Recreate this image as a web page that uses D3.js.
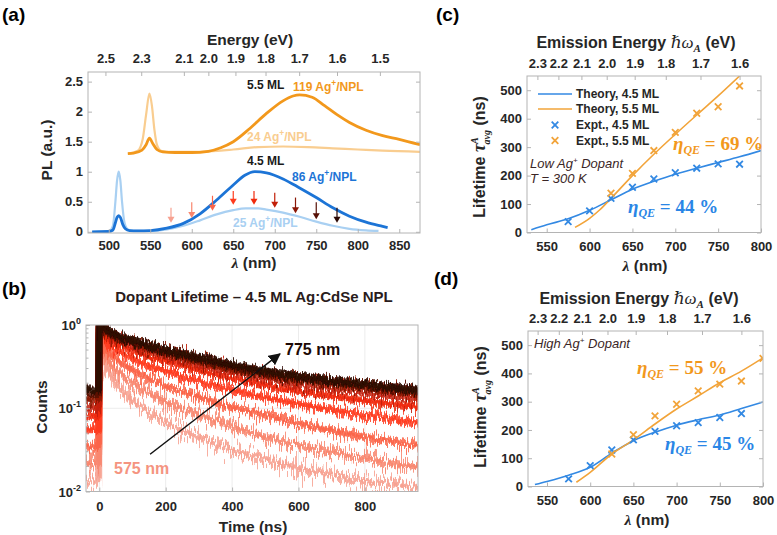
<!DOCTYPE html>
<html>
<head>
<meta charset="utf-8">
<script src="https://cdn.jsdelivr.net/npm/d3@7"></script>
<style>
  body { margin: 0; background: #fff; }
</style>
</head>
<body>
<svg id="fig" width="777" height="535"></svg>
<script>
// ---------- (a) PL spectra, [wavelength nm, PL a.u.] ----------
const energyTicksA = [2.5, 2.3, 2.1, 2.0, 1.9, 1.8, 1.7, 1.6, 1.5];
const wlTicksA = [500, 550, 600, 650, 700, 750, 800, 850];
const plTicks = [0, 0.5, 1, 1.5, 2, 2.5];
const pl86 = [[480,0],[500,0.005],[505,0.03],[508,0.15],[510,0.24],[512,0.27],[514,0.24],[517,0.12],[520,0.05],[525,0.02],[535,0.015],[550,0.02],[570,0.06],[590,0.14],[610,0.3],[630,0.53],[650,0.78],[664,0.94],[676,1.0],[690,0.98],[710,0.88],[730,0.73],[750,0.57],[770,0.4],[790,0.26],[810,0.16],[830,0.09],[836,0.07]];
const pl25 = [[480,0],[500,0.01],[505,0.1],[508,0.5],[510,0.85],[512,1.0],[514,0.85],[516,0.5],[519,0.15],[523,0.04],[530,0.015],[550,0.015],[570,0.04],[590,0.1],[610,0.19],[630,0.29],[650,0.36],[665,0.39],[680,0.39],[690,0.37],[710,0.32],[730,0.25],[750,0.17],[770,0.1],[790,0.05],[810,0.025],[825,0.015]];
const pl119 = [[523,1.3],[530,1.31],[540,1.36],[545,1.45],[549,1.56],[553,1.47],[558,1.37],[565,1.33],[580,1.32],[600,1.32],[620,1.34],[635,1.4],[650,1.5],[670,1.72],[690,1.97],[710,2.18],[722,2.26],[730,2.28],[745,2.24],[760,2.1],[775,1.95],[790,1.82],[810,1.69],[830,1.6],[850,1.54],[875,1.45]];
const pl24 = [[523,1.3],[535,1.35],[541,1.55],[545,1.95],[549,2.3],[552,2.1],[555,1.7],[558,1.45],[563,1.35],[575,1.33],[600,1.33],[650,1.37],[680,1.41],[710,1.42],[740,1.41],[770,1.39],[800,1.37],[830,1.35],[875,1.33]];
const arrowWl = [575, 600, 625, 650, 675, 700, 725, 750, 775];
const arrowTop = [0.40, 0.49, 0.60, 0.68, 0.68, 0.65, 0.57, 0.49, 0.40];
const arrowTip = [0.15, 0.23, 0.35, 0.45, 0.45, 0.40, 0.31, 0.21, 0.15];

// ---------- (b) decay traces, counts vs time ----------
const timeNs = [-40, -2, 0, 10, 25, 50, 100, 150, 200, 300, 400, 500, 600, 700, 800, 900, 960];
const traceWl = [575, 600, 625, 650, 675, 700, 725, 750, 775];
const counts575 = [0.014,0.014,0.9,0.5,0.29,0.2,0.125,0.09,0.068,0.045,0.031,0.024,0.019,0.016,0.0135,0.012,0.011];
const counts600 = [0.022,0.022,0.92,0.6,0.4,0.3,0.2,0.15,0.12,0.083,0.06,0.045,0.036,0.03,0.025,0.021,0.02];
const counts625 = [0.035,0.035,0.94,0.7,0.5,0.4,0.29,0.23,0.19,0.138,0.104,0.083,0.065,0.054,0.045,0.039,0.036];
const counts650 = [0.055,0.055,0.95,0.78,0.61,0.52,0.4,0.32,0.28,0.21,0.166,0.135,0.112,0.095,0.083,0.073,0.068];
const counts675 = [0.08,0.08,0.96,0.85,0.7,0.61,0.5,0.42,0.37,0.285,0.23,0.19,0.16,0.14,0.123,0.11,0.104];
const counts700 = [0.1,0.1,0.97,0.88,0.77,0.68,0.57,0.48,0.42,0.33,0.27,0.23,0.196,0.172,0.154,0.138,0.13];
const counts725 = [0.13,0.13,0.98,0.9,0.81,0.72,0.61,0.53,0.46,0.37,0.3,0.26,0.22,0.196,0.177,0.159,0.15];
const counts750 = [0.15,0.15,0.99,0.92,0.85,0.74,0.63,0.55,0.48,0.39,0.32,0.27,0.235,0.21,0.19,0.17,0.162];
const counts775 = [0.17,0.17,1.0,0.94,0.87,0.76,0.65,0.57,0.5,0.4,0.33,0.28,0.24,0.215,0.196,0.174,0.166];
const timeTicks = [0, 200, 400, 600, 800];

// ---------- (c) low Ag+, lifetime vs wavelength ----------
const expWl = [575, 600, 625, 650, 675, 700, 725, 750, 775];
const cExpt45 = [38, 76, 120, 159, 188, 210, 226, 241, 240];
const cExpt55Wl = [625, 650, 675, 700, 725, 750, 775];
const cExpt55 = [138, 208, 288, 352, 419, 442, 515];
const cTheory45Wl = [532, 550, 575, 600, 625, 650, 675, 700, 725, 750, 775, 800];
const cTheory45 = [10, 27, 48, 78, 115, 152, 180, 205, 226, 246, 266, 288];
const cTheory55Wl = [583, 600, 612, 625, 650, 675, 700, 725, 750, 776];
const cTheory55 = [18, 50, 80, 120, 200, 275, 345, 413, 480, 553];

// ---------- (d) high Ag+ ----------
const dExpt45 = [27, 74, 129, 165, 195, 215, 226, 244, 258];
const dExpt55Wl = [625, 650, 675, 700, 725, 750, 775, 800];
const dExpt55 = [115, 183, 250, 291, 338, 362, 373, 453];
const dTheory45Wl = [536, 550, 575, 600, 625, 650, 675, 700, 725, 750, 775, 800];
const dTheory45 = [7, 18, 40, 68, 118, 162, 192, 217, 236, 253, 276, 299];
const dTheory55Wl = [584, 600, 625, 650, 675, 700, 725, 750, 775, 800];
const dTheory55 = [15, 50, 115, 165, 221, 274, 320, 367, 408, 455];

const energyTicksC = [2.3, 2.2, 2.1, 2.0, 1.9, 1.8, 1.7, 1.6];
const lifeTicks = [0, 100, 200, 300, 400, 500];
const lifeWlTicks = [550, 600, 650, 700, 750, 800];

// ---------- style ----------
const sans = '"Liberation Sans", Arial, Helvetica, sans-serif';
const serif = '"Liberation Serif", "DejaVu Serif", serif';
const axisGray = "#b4b4b4";
const ink = "#262626";
const blue = "#1c74d6", lightBlue = "#a9d0f2";
const orange = "#f2981c", lightOrange = "#f9cd90";
const lineBlue = "#3389e3", lineOrange = "#f2a43a";
const traceColors = ["#f7a190", "#f8866e", "#fb6448", "#ff3b1c", "#f02a0c", "#c21f08", "#8a1707", "#561006", "#2b0805"];
// jitter amplitude (px) of each trace band, wider for the weaker traces
const traceNoise = [44, 34, 26, 22, 18, 15, 13, 12, 11];

const svg = d3.select("#fig");
svg.append("rect").attr("width", 777).attr("height", 535).attr("fill", "#fff");
const defs = svg.append("defs");

function styleAxis(g, size) {
  g.attr("font-family", sans).attr("font-size", size || 13).attr("font-weight", "bold");
  g.select(".domain").remove();
  g.selectAll(".tick line").attr("stroke", axisGray);
  g.selectAll(".tick text").attr("fill", ink);
}

function frame(x, y) {
  const [x0, x1] = x.range(), [y0, y1] = y.range();
  svg.append("rect")
    .attr("x", x0).attr("y", y1)
    .attr("width", x1 - x0).attr("height", y0 - y1)
    .attr("fill", "none").attr("stroke", axisGray);
}

function clipFor(id, x, y) {
  const [x0, x1] = x.range(), [y0, y1] = y.range();
  defs.append("clipPath").attr("id", id)
    .append("rect").attr("x", x0).attr("y", y1).attr("width", x1 - x0).attr("height", y0 - y1);
  return "url(#" + id + ")";
}

function label(txt, x, y, opts) {
  const t = svg.append("text").attr("x", x).attr("y", y)
    .attr("font-family", sans).attr("font-weight", "bold")
    .attr("font-size", opts.size || 15).attr("fill", opts.fill || ink)
    .attr("text-anchor", opts.anchor || "start")
    .text(txt);
  if (opts.rotate) t.attr("transform", `rotate(-90,${x},${y})`);
  return t;
}

function supLabel(base, sup, tail, x, y, size, fill) {
  const t = svg.append("text").attr("x", x).attr("y", y)
    .attr("font-family", sans).attr("font-weight", "bold")
    .attr("font-size", size).attr("fill", fill);
  t.append("tspan").text(base);
  t.append("tspan").attr("dy", -5).attr("font-size", size * 0.7).text(sup);
  t.append("tspan").attr("dy", 5).text(tail);
}

function cross(g, pts, color) {
  g.selectAll(null).data(pts).join("path")
    .attr("transform", d => `translate(${d[0]},${d[1]})`)
    .attr("d", "M-3.3,-3.3L3.3,3.3M-3.3,3.3L3.3,-3.3")
    .attr("stroke", color).attr("stroke-width", 1.8).attr("fill", "none");
}

// ================= panel (a) =================
const xA = d3.scaleLinear().domain([475, 875]).range([88, 420]);
const yA = d3.scaleLinear().domain([-0.02, 2.66]).range([233, 72]);
const lineA = d3.line().x(d => xA(d[0])).y(d => yA(d[1])).curve(d3.curveMonotoneX);
const gA = svg.append("g").attr("clip-path", clipFor("clipA", xA, yA));

gA.append("path").attr("d", lineA(pl24)).attr("fill", "none").attr("stroke", lightOrange).attr("stroke-width", 2.2);
gA.append("path").attr("d", lineA(pl119)).attr("fill", "none").attr("stroke", orange).attr("stroke-width", 2.8);
gA.append("path").attr("d", lineA(pl25)).attr("fill", "none").attr("stroke", lightBlue).attr("stroke-width", 2.2);
gA.append("path").attr("d", lineA(pl86)).attr("fill", "none").attr("stroke", blue).attr("stroke-width", 2.8);

arrowWl.forEach((wl, i) => {
  const ax = xA(wl), top = yA(arrowTop[i]), tip = yA(arrowTip[i]);
  gA.append("line").attr("x1", ax).attr("x2", ax).attr("y1", top).attr("y2", tip - 4)
    .attr("stroke", traceColors[i]).attr("stroke-width", 1.2);
  gA.append("path").attr("d", `M${ax - 3.5},${tip - 6}L${ax + 3.5},${tip - 6}L${ax},${tip}Z`)
    .attr("fill", traceColors[i]);
});

frame(xA, yA);
svg.append("g").attr("transform", "translate(0,233)")
  .call(d3.axisBottom(xA).tickValues(wlTicksA).tickSize(-4).tickPadding(8)).call(styleAxis);
svg.append("g").attr("transform", "translate(0,72)")
  .call(d3.axisTop(xA).tickValues(energyTicksA.map(e => 1240 / e)).tickFormat((d, i) => d3.format(".1f")(energyTicksA[i]))
    .tickSize(-4).tickPadding(9)).call(styleAxis);
svg.append("g").attr("transform", "translate(88,0)")
  .call(d3.axisLeft(yA).tickValues(plTicks).tickFormat(d3.format("")).tickSize(-4).tickPadding(5)).call(styleAxis);
svg.append("g").attr("transform", "translate(420,0)")
  .call(d3.axisRight(yA).tickValues(plTicks).tickFormat("").tickSize(-4)).call(styleAxis);

label("Energy (eV)", 250, 45, { size: 15.5, anchor: "middle" });
label("PL (a.u.)", 52, 150, { size: 15.5, anchor: "middle", rotate: true });
const lamA = svg.append("text").attr("x", 254).attr("y", 268).attr("text-anchor", "middle")
  .attr("font-family", sans).attr("font-weight", "bold").attr("font-size", 15.5).attr("fill", ink);
lamA.append("tspan").attr("font-family", serif).attr("font-style", "italic").text("λ");
lamA.append("tspan").text(" (nm)");

label("5.5 ML", 247, 89, { size: 12, fill: "#1a1a1a" });
supLabel("119 Ag", "+", "/NPL", 293, 91, 12, orange);
supLabel("24 Ag", "+", "/NPL", 247, 141, 12, lightOrange);
label("4.5 ML", 247, 165, { size: 12, fill: "#1a1a1a" });
supLabel("86 Ag", "+", "/NPL", 292, 181, 12, blue);
supLabel("25 Ag", "+", "/NPL", 233, 227, 12, lightBlue);
label("(a)", 2, 21, { size: 19, fill: "#000" });

// ================= panel (b) =================
const xB = d3.scaleLinear().domain([-40, 960]).range([86, 418]);
const yB = d3.scaleLog().domain([0.01, 1]).range([491.5, 325]);

// grid
const gridB = svg.append("g");
gridB.selectAll(null).data(timeTicks).join("line")
  .attr("x1", d => xB(d)).attr("x2", d => xB(d)).attr("y1", 325).attr("y2", 491.5)
  .attr("stroke", "#ececec");
gridB.selectAll(null).data([0.1]).join("line")
  .attr("x1", 86).attr("x2", 418).attr("y1", d => yB(d)).attr("y2", d => yB(d))
  .attr("stroke", "#ececec");

const traces = [counts575, counts600, counts625, counts650, counts675, counts700, counts725, counts750, counts775];
// vertical jitter filter: turbulence drives only the y displacement (R channel held at 0.5)
traces.forEach((c, i) => {
  const f = defs.append("filter").attr("id", "jit" + i)
    .attr("filterUnits", "userSpaceOnUse").attr("x", 0).attr("y", 0).attr("width", 777).attr("height", 535);
  f.append("feTurbulence").attr("type", "fractalNoise").attr("baseFrequency", "0.9 0.03")
    .attr("numOctaves", 2).attr("seed", 2 + i).attr("result", "n");
  f.append("feColorMatrix").attr("in", "n").attr("type", "matrix")
    .attr("values", "0 0 0 0 0.5  0 1 0 0 0  0 0 1 0 0  0 0 0 0 1").attr("result", "m");
  f.append("feDisplacementMap").attr("in", "SourceGraphic").attr("in2", "m")
    .attr("scale", traceNoise[i]).attr("xChannelSelector", "R").attr("yChannelSelector", "G");
});
const lineB = d3.line().x(d => xB(d[0])).y(d => yB(d[1])).curve(d3.curveMonotoneX);
const gB = svg.append("g").attr("clip-path", clipFor("clipB", xB, yB));
traces.forEach((c, i) => {
  const pts = timeNs.map((t, k) => [t, c[k]]);
  gB.append("path").attr("d", lineB(pts)).attr("fill", "none")
    .attr("stroke", traceColors[i]).attr("stroke-width", 7).attr("stroke-opacity", 0.85)
    .attr("filter", `url(#jit${i})`);
  gB.append("path").attr("d", lineB(pts)).attr("fill", "none")
    .attr("stroke", traceColors[i]).attr("stroke-width", 4).attr("stroke-opacity", 0.9)
    .attr("filter", `url(#jit${(i + 4) % 9})`);
});

// arrow 575 -> 775 nm
const a0 = [xB(153), yB(0.028)], a1 = [xB(544), yB(0.45)];
defs.append("marker").attr("id", "headB").attr("viewBox", "0 0 10 10").attr("refX", 9).attr("refY", 5)
  .attr("markerWidth", 8).attr("markerHeight", 8).attr("orient", "auto")
  .append("path").attr("d", "M0,0L10,5L0,10Z").attr("fill", "#111");
svg.append("line").attr("x1", a0[0]).attr("y1", a0[1]).attr("x2", a1[0]).attr("y2", a1[1])
  .attr("stroke", "#111").attr("stroke-width", 1.5).attr("marker-end", "url(#headB)");

frame(xB, yB);
svg.append("g").attr("transform", "translate(0,491.5)")
  .call(d3.axisBottom(xB).tickValues(timeTicks).tickSize(-4).tickPadding(10)).call(styleAxis);
svg.append("g").attr("transform", "translate(86,0)")
  .call(d3.axisLeft(yB).tickValues([0.01, 0.1, 1]).tickFormat("").tickSize(-4)).call(styleAxis);
const minorB = [];
[0.01, 0.1].forEach(dec => d3.range(2, 10).forEach(k => minorB.push(dec * k)));
svg.append("g").selectAll(null).data(minorB).join("line")
  .attr("x1", 86).attr("x2", 88.5).attr("y1", d => yB(d)).attr("y2", d => yB(d)).attr("stroke", axisGray);
[[1, "0"], [0.1, "-1"], [0.01, "-2"]].forEach(([v, e]) => {
  const t = svg.append("text").attr("x", 81).attr("y", yB(v) + 5).attr("text-anchor", "end")
    .attr("font-family", sans).attr("font-weight", "bold").attr("font-size", 13).attr("fill", ink);
  t.append("tspan").text("10");
  t.append("tspan").attr("dy", -6).attr("font-size", 9).text(e);
});

label("Dopant Lifetime \u2013 4.5 ML Ag:CdSe NPL", 254, 302, { size: 15, anchor: "middle", fill: "#2a1c1c" });
label("Counts", 47, 407, { size: 15.5, anchor: "middle", rotate: true });
label("Time (ns)", 253, 532, { size: 15.5, anchor: "middle" });
label("775 nm", 285, 355, { size: 16, fill: "#1d0905" });
label("575 nm", 114, 474, { size: 16, fill: "#f59480" });
label("(b)", 2, 295, { size: 19, fill: "#000" });

// ================= panels (c) and (d) =================
function lifetimePanel(x, y, id, th45Wl, th45, th55Wl, th55, ex45, ex55Wl, ex55) {
  const line = d3.line().x(d => x(d[0])).y(d => y(d[1])).curve(d3.curveMonotoneX);
  const g = svg.append("g").attr("clip-path", clipFor(id, x, y));
  g.append("path").attr("d", line(th45Wl.map((w, i) => [w, th45[i]])))
    .attr("fill", "none").attr("stroke", lineBlue).attr("stroke-width", 1.6);
  g.append("path").attr("d", line(th55Wl.map((w, i) => [w, th55[i]])))
    .attr("fill", "none").attr("stroke", lineOrange).attr("stroke-width", 1.6);
  cross(g, expWl.map((w, i) => [x(w), y(ex45[i])]), lineBlue);
  cross(g, ex55Wl.map((w, i) => [x(w), y(ex55[i])]), lineOrange);

  frame(x, y);
  const [x0, x1] = x.range(), [y0, y1] = y.range();
  svg.append("g").attr("transform", `translate(0,${y0})`)
    .call(d3.axisBottom(x).tickValues(lifeWlTicks).tickSize(-4).tickPadding(9)).call(styleAxis);
  svg.append("g").attr("transform", `translate(0,${y1})`)
    .call(d3.axisTop(x).tickValues(energyTicksC.map(e => 1240 / e)).tickFormat((d, i) => d3.format(".1f")(energyTicksC[i]))
      .tickSize(-4).tickPadding(8)).call(styleAxis);
  svg.append("g").attr("transform", `translate(${x0},0)`)
    .call(d3.axisLeft(y).tickValues(lifeTicks).tickSize(-4).tickPadding(5)).call(styleAxis);
  svg.append("g").attr("transform", `translate(${x1},0)`)
    .call(d3.axisRight(y).tickValues(lifeTicks).tickFormat("").tickSize(-4)).call(styleAxis);
}

function energyTitle(cx, y) {
  const t = svg.append("text").attr("x", cx).attr("y", y).attr("text-anchor", "middle")
    .attr("font-family", sans).attr("font-weight", "bold").attr("font-size", 16).attr("fill", ink);
  t.append("tspan").text("Emission Energy ");
  t.append("tspan").attr("font-family", serif).attr("font-style", "italic").attr("font-weight", "normal").attr("font-size", 17).text("\u210Fω");
  t.append("tspan").attr("font-family", serif).attr("font-style", "italic").attr("font-size", 11).attr("dy", 4).text("A");
  t.append("tspan").attr("dy", -4).text(" (eV)");
}

function lifetimeLabel(cx, cy) {
  const t = svg.append("text").attr("x", cx).attr("y", cy).attr("text-anchor", "middle")
    .attr("transform", `rotate(-90,${cx},${cy})`)
    .attr("font-family", sans).attr("font-weight", "bold").attr("font-size", 16).attr("fill", ink);
  t.append("tspan").text("Lifetime ");
  t.append("tspan").attr("font-family", serif).attr("font-style", "italic").attr("font-size", 18).text("τ");
  t.append("tspan").attr("font-family", serif).attr("font-style", "italic").attr("font-size", 10).attr("dy", -7).text("A");
  t.append("tspan").attr("font-family", serif).attr("font-style", "italic").attr("font-size", 10).attr("dx", -7).attr("dy", 12).text("avg");
  t.append("tspan").attr("dy", -5).text(" (ns)");
}

function lambdaLabel(cx, y) {
  const t = svg.append("text").attr("x", cx).attr("y", y).attr("text-anchor", "middle")
    .attr("font-family", sans).attr("font-weight", "bold").attr("font-size", 15.5).attr("fill", ink);
  t.append("tspan").attr("font-family", serif).attr("font-style", "italic").text("λ");
  t.append("tspan").text(" (nm)");
}

function etaLabel(x, y, value, color) {
  const t = svg.append("text").attr("x", x).attr("y", y)
    .attr("font-family", serif).attr("font-weight", "bold").attr("font-size", 19).attr("fill", color);
  t.append("tspan").attr("font-style", "italic").text("η");
  t.append("tspan").attr("font-style", "italic").attr("font-size", 12).attr("dy", 4).text("QE");
  t.append("tspan").attr("dy", -4).text(" = " + value + " %");
}

function noteLabel(lines, x, y) {
  lines.forEach((parts, i) => {
    const t = svg.append("text").attr("x", x).attr("y", y + i * 15)
      .attr("font-family", sans).attr("font-style", "italic").attr("font-size", 13).attr("fill", "#3a2626");
    parts.forEach(p => {
      const s = t.append("tspan").text(p[0]);
      if (p[1] === "sup") s.attr("font-size", 8).attr("dy", -5);
      if (p[1] === "down") s.attr("dy", 5);
    });
  });
}

// (c)
const xC = d3.scaleLinear().domain([527, 800]).range([527, 761]);
const yC = d3.scaleLinear().domain([0, 550]).range([232.5, 76]);
lifetimePanel(xC, yC, "clipC", cTheory45Wl, cTheory45, cTheory55Wl, cTheory55, cExpt45, cExpt55Wl, cExpt55);
energyTitle(636, 48);
lifetimeLabel(485, 157);
lambdaLabel(645, 271);
label("(c)", 436, 21, { size: 19, fill: "#000" });

// legend (c)
const legend = svg.append("g").attr("font-family", sans).attr("font-weight", "bold").attr("font-size", 12);
const legRows = [
  { y: 94, kind: "line", color: lineBlue, text: "Theory, 4.5 ML" },
  { y: 109, kind: "line", color: lineOrange, text: "Theory, 5.5 ML" },
  { y: 125, kind: "cross", color: lineBlue, text: "Expt., 4.5 ML" },
  { y: 140.5, kind: "cross", color: lineOrange, text: "Expt., 5.5 ML" },
];
legRows.forEach(r => {
  if (r.kind === "line") {
    legend.append("line").attr("x1", 538).attr("x2", 572).attr("y1", r.y).attr("y2", r.y)
      .attr("stroke", r.color).attr("stroke-width", 1.6);
  } else {
    cross(legend, [[555, r.y]], r.color);
  }
  legend.append("text").attr("x", 576).attr("y", r.y + 4.3).attr("fill", ink).text(r.text);
});
noteLabel([[["Low Ag"], ["+", "sup"], [" Dopant", "down"]], [["T = 300 K"]]], 530, 168);
etaLabel(673, 150, 69, orange);
etaLabel(628, 213, 44, "#2a86e6");

// (d)
const xD = d3.scaleLinear().domain([528, 800]).range([528, 763]);
const yD = d3.scaleLinear().domain([0, 550]).range([486.5, 331]);
lifetimePanel(xD, yD, "clipD", dTheory45Wl, dTheory45, dTheory55Wl, dTheory55, dExpt45, dExpt55Wl, dExpt55);
energyTitle(639, 304);
lifetimeLabel(486, 407);
lambdaLabel(647, 525);
label("(d)", 434, 285, { size: 19, fill: "#000" });
noteLabel([[["High Ag"], ["+", "sup"], [" Dopant", "down"]]], 534, 348);
etaLabel(637, 374, 55, orange);
etaLabel(665, 450, 45, "#2a86e6");
</script>
</body>
</html>
